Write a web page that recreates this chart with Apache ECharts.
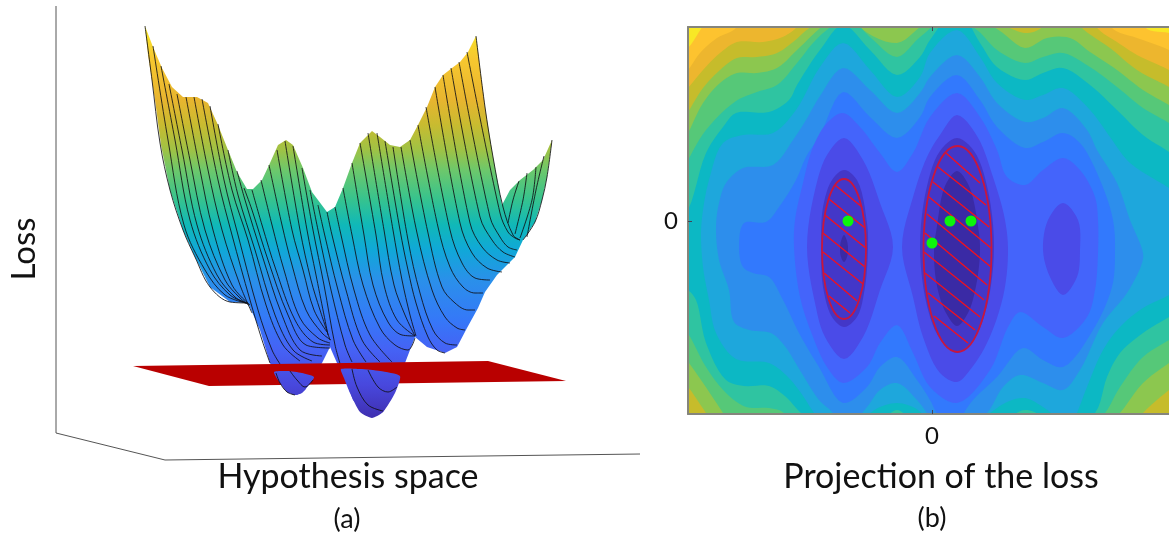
<!DOCTYPE html>
<html><head><meta charset="utf-8">
<style>html,body{margin:0;padding:0;background:#fff}#c{width:1169px;height:534px}</style>
<script src="https://cdn.jsdelivr.net/npm/echarts@6/dist/echarts.min.js"></script>
</head><body><div id="c"></div>
<script>
// ---------- (a) projected loss surface, [hypothesis, loss-projection] readings ----------
const SURFACE_OUTLINE = [[145,26],[153,47],[162,68],[172,87],[183,97],[197,97],[208,103],[218,125],[228,150],[237,172],[247,189],[253,189],[262,180],[270,163],[278,145],[286,140],[293,145],[303,168],[312,192],[327,212],[335,207],[343,188],[352,163],[360,143],[372,131],[380,137],[390,145],[400,147],[410,140],[418,125],[427,107],[435,87],[443,75],[452,68],[460,62],[468,52],[476,36],[485,107],[493,157],[502,205],[510,190],[520,180],[533,170],[543,160],[552,140],[547,177],[542,200],[535,222],[523,240],[515,257],[497,275],[485,292],[478,308],[467,328],[457,347],[445,353],[427,347],[415,337],[405,363],[400,377],[393,393],[383,412],[370,417],[353,400],[342,370],[337,363],[330,347],[322,363],[313,378],[305,390],[297,395],[287,392],[277,377],[270,363],[260,330],[248,303],[230,302],[210,287],[195,257],[183,230],[170,190],[161,145],[155,100],[148,55]];
const SLICES = [
[[145,26],[152,80],[160,143],[170,190],[183,230],[195,257],[210,287],[230,302],[248,303]],
[[153,46],[168,140],[184,225],[205,270],[225,295],[246,303]],
[[161,66],[175,140],[190,220],[210,270],[230,295],[247,303]],
[[169,84],[182,150],[197,225],[217,275],[235,297],[248,304]],
[[177,94],[190,160],[205,230],[225,280],[240,298],[249,305]],
[[186,97],[200,170],[213,230],[232,285],[250,305]],
[[194,97],[208,170],[222,230],[240,285],[252,313]],
[[202,99],[218,180],[232,235],[250,300],[262,340],[270,363]],
[[210,106],[224,180],[238,235],[258,310],[272,350],[280,364]],
[[218,124],[232,190],[248,240],[266,305],[283,345],[300,361]],
[[228,150],[238,195],[255,250],[275,315],[293,350],[312,361]],
[[237,171],[245,200],[262,255],[282,315],[300,350],[322,356]],
[[244,188],[252,210],[268,260],[288,315],[306,345],[330,348]],
[[252,190],[262,225],[276,270],[295,320],[313,342],[330,345]],
[[261,180],[272,225],[284,270],[300,318],[318,338],[330,343]],
[[269,165],[282,225],[292,265],[306,310],[322,333],[331,340]],
[[277,150],[292,230],[303,270],[314,310],[327,332]],
[[285,141],[300,230],[311,280],[320,310],[330,340]],
[[293,146],[307,230],[316,275],[328,335]],
[[302,168],[313,230],[324,285],[335,345],[342,370]],
[[310,190],[318,230],[331,290],[345,345],[352,362]],
[[318,205],[324,232],[338,290],[353,340],[366,362]],
[[327,212],[332,235],[346,290],[362,340],[380,362]],
[[335,207],[341,235],[354,290],[370,335],[392,362]],
[[343,188],[352,235],[363,285],[380,328],[395,345],[408,350],[415,338]],
[[352,163],[364,235],[373,285],[388,322],[402,335],[415,336]],
[[360,143],[376,235],[384,285],[397,320],[415,336]],
[[368,133],[384,230],[394,285],[405,315],[415,336]],
[[377,133],[393,230],[402,280],[410,315],[416,336]],
[[385,141],[400,230],[408,270],[416,303],[428,337],[437,350],[445,353]],
[[393,147],[408,240],[420,293],[433,330],[445,343],[457,345]],
[[401,147],[417,233],[432,290],[445,317],[457,328],[465,330]],
[[410,140],[428,233],[442,287],[455,303],[468,310],[475,310]],
[[418,125],[438,227],[450,267],[463,287],[475,293],[483,293]],
[[426,107],[450,230],[462,263],[475,278],[490,280]],
[[435,87],[460,223],[472,253],[487,268],[502,272]],
[[443,75],[470,223],[482,247],[497,260],[510,263]],
[[451,68],[480,217],[492,240],[503,252],[515,257]],
[[459,62],[490,217],[500,237],[508,247],[517,250]],
[[467,52],[500,213],[508,232],[515,238],[520,240]],
[[476,36],[485,107],[493,157],[503,207],[513,235],[520,240]],
[[552,140],[547,177],[542,200],[535,222],[523,240]],
[[544,156],[536,190],[527,237]],
[[536,167],[532,200],[520,238]],
[[527,173],[523,200],[515,234]],
[[519,181],[513,200],[508,223]]
];
const PLANE = [[133,366],[488,361],[566,381],[209,386]];
const WELL_CAPS = [
[[274,372],[287,371],[302,373],[314,377],[308,386],[302,393],[295,395],[287,392],[280,383]],
[[341,369],[360,369],[380,371],[400,376],[395,393],[383,412],[372,418],[360,412],[350,393],[344,378]]
];
const WELL_SLICES = [
[[276,373],[280,383],[287,392],[295,395]],
[[290,371],[297,380],[305,387],[313,380]],
[[352,369],[357,387],[368,405],[383,411]],
[[368,370],[378,387],[388,392],[397,387]]
];
const BOX_EDGES = [[56,6],[56,433],[165,460],[640,454]];
const HEIGHT_STOPS = [[27,'#f7e826'],[58,'#f7c82f'],[100,'#e8b52f'],[125,'#c8bb30'],[150,'#9fc245'],[170,'#6dc86b'],[200,'#35c38f'],[225,'#10b8b8'],[250,'#10a8d8'],[280,'#2a90ea'],[320,'#3578f8'],[350,'#4562f5'],[385,'#4848dd'],[418,'#3f2fb0']];

// ---------- (b) contour bands: upper boundary then lower boundary of each sub-level set ----------
const LEVEL_COLORS = ['#fdc32f','#edb62e','#c6bc2b','#8cc74f','#56c878','#2fc4a1','#0cb8c4','#1ea7dc','#2d8eec','#3279fd','#4464fb','#4a4be8','#4337c8','#3a2aa5'];
const U1=[[-260,160],[-244,173],[-231,192],[-215,215],[200,215],[215,192],[237,188],[255,180]];
const D1=[[-260,-230],[255,-230]];
const U2=[[-260,135],[-244,151],[-232,168],[-215,183],[-197,192],[-180,215],[165,215],[181,192],[205,183],[237,171],[255,160]];
const U3=[[-260,115],[-244,133],[-229,151],[-212,168],[-195,179],[-169,179],[-152,183],[-137,192],[-120,215],[150,215],[166,192],[185,179],[205,166],[237,151],[255,140]];
const U4=[[-260,85],[-244,109],[-229,133],[-212,151],[-195,163],[-175,164],[-155,168],[-139,179],[-124,192],[-90,215],[20,215],[80,192],[93,188],[108,192],[130,215],[151,192],[178,173],[205,151],[237,134],[255,122]];
const D4=[[-260,-145],[-243,-167],[-226,-192],[-210,-215],[195,-215],[211,-192],[237,-169],[255,-155]];
const U5=[[-260,60],[-244,88],[-229,118],[-212,138],[-195,148],[-175,148],[-155,153],[-135,171],[-113,192],[-85,215],[-70,192],[-35,178],[-12,194],[15,215],[65,192],[93,173],[115,183],[138,183],[158,169],[185,151],[211,131],[237,116],[255,105]];
const D5=[[-260,-120],[-243,-142],[-209,-192],[-195,-215],[165,-215],[188,-192],[211,-162],[237,-142],[255,-130]];
const U6=[[-260,30],[-244,61],[-226,91],[-196,120],[-175,129],[-155,136],[-135,158],[-119,178],[-104,192],[-85,204],[-62,184],[-35,164],[-12,184],[18,204],[45,191],[65,171],[93,158],[111,164],[131,168],[158,154],[185,134],[211,113],[237,98],[255,85]];
const D6=[[-260,-90],[-243,-114],[-226,-146],[-206,-172],[-186,-186],[-163,-187],[-148,-192],[-135,-215],[150,-215],[173,-192],[188,-166],[211,-136],[237,-119],[255,-108]];
const U7=[[-260,-10],[-244,11],[-226,68],[-209,94],[-196,108],[-163,109],[-143,121],[-135,136],[-112,171],[-89,196],[-62,171],[-35,146],[-12,164],[-2,181],[25,211],[48,178],[65,154],[93,141],[111,148],[131,153],[158,136],[185,111],[211,86],[237,69],[255,55]];
const D7=[[-260,-60],[-244,-69],[-236,-79],[-226,-122],[-206,-159],[-188,-165],[-163,-165],[-146,-176],[-131,-192],[-100,-215],[-45,-194],[-35,-189],[-25,-194],[30,-215],[80,-194],[93,-189],[108,-194],[130,-215],[163,-192],[175,-156],[188,-132],[211,-112],[237,-96],[255,-85]];
const U8=[[-231,-12],[-229,11],[-223,41],[-209,78],[-189,86],[-159,88],[-136,111],[-112,154],[-89,178],[-62,151],[-35,124],[-12,144],[-2,168],[25,191],[48,164],[65,138],[93,121],[111,126],[131,133],[158,111],[178,84],[198,58],[237,33],[255,20]];
const D8=[[-229,-46],[-223,-79],[-216,-112],[-196,-138],[-163,-142],[-146,-154],[-131,-172],[-118,-192],[-100,-215],[-65,-194],[-52,-186],[-35,-182],[-19,-186],[-5,-196],[25,-215],[58,-192],[75,-181],[93,-177],[111,-186],[121,-194],[135,-215],[145,-192],[155,-166],[171,-129],[188,-106],[211,-87],[237,-74],[255,-62]];
const U9=[[-216,-6],[-213,18],[-206,38],[-189,53],[-159,56],[-139,81],[-126,101],[-112,125],[-89,153],[-62,131],[-35,108],[-12,128],[-2,144],[25,166],[48,144],[65,118],[93,99],[111,103],[131,113],[155,91],[165,71],[185,38],[198,1],[211,-32]];
const D9=[[-213,-39],[-203,-69],[-198,-101],[-183,-109],[-161,-112],[-148,-124],[-131,-151],[-113,-179],[-99,-192],[-89,-210],[-65,-186],[-52,-169],[-35,-162],[-15,-179],[1,-199],[25,-215],[55,-192],[71,-166],[88,-154],[111,-162],[131,-169],[148,-149],[171,-102],[195,-72],[210,-42]];
const U10=[[-193,-26],[-188,-2],[-166,-1],[-153,14],[-136,41],[-126,64],[-112,86],[-89,129],[-62,104],[-35,83],[-12,104],[-2,124],[25,146],[48,121],[65,94],[93,73],[111,79],[131,88],[148,78],[168,41],[181,1],[183,-32]];
const D10=[[-189,-46],[-179,-52],[-163,-56],[-149,-79],[-133,-112],[-113,-146],[-89,-182],[-65,-166],[-52,-146],[-35,-136],[-15,-159],[-2,-179],[6,-194],[25,-212],[31,-194],[41,-179],[65,-156],[91,-127],[111,-139],[131,-146],[161,-109],[180,-66]];
const U11=[[-138,-26],[-137,1],[-130,34],[-119,74],[-105,98],[-89,108],[-72,94],[-52,68],[-35,49],[-19,68],[-2,104],[25,128],[48,104],[65,71],[75,44],[93,36],[111,51],[131,63],[148,51],[163,24],[166,1],[166,-32]];
const D11=[[-132,-76],[-119,-116],[-105,-146],[-89,-162],[-65,-146],[-52,-122],[-35,-104],[-19,-132],[-2,-166],[25,-182],[58,-149],[76,-106],[88,-91],[111,-106],[131,-117],[155,-96],[163,-69]];
const LOBE_LEFT=[[-88,83],[-69,61],[-52,18],[-39,-26],[-52,-69],[-69,-116],[-88,-138],[-107,-116],[-117,-82],[-125,-26],[-117,31],[-105,66]];
const LOBE_RIGHT=[[25,106],[45,85],[61,44],[73,1],[76,-32],[71,-76],[55,-122],[38,-149],[25,-161],[8,-152],[-9,-116],[-19,-76],[-30,-26],[-19,24],[-5,64],[8,86]];
const LOBE_THIRD=[[131,18],[116,1],[111,-29],[118,-56],[131,-74],[145,-56],[148,-29],[146,1]];
const CORE_LEFT=[[-88,51],[-75,41],[-65,-2],[-64,-26],[-67,-66],[-75,-96],[-88,-106],[-100,-96],[-109,-66],[-111,-26],[-109,14],[-100,41]];
const CORE_RIGHT=[[25,83],[42,70],[55,35],[62,-25],[55,-85],[42,-118],[25,-132],[8,-118],[-5,-85],[-12,-25],[-5,35],[8,70]];
const PIT_LEFT=[[-88,-14],[-85,-20],[-84,-28],[-85,-36],[-88,-41],[-91,-36],[-92,-28],[-91,-20]];
const PIT_RIGHT=[[25,50],[37,35],[46,-5],[48,-30],[44,-65],[36,-92],[25,-105],[14,-92],[5,-65],[2,-30],[5,-5],[13,35]];

const BASE_COLOR='#f8e826';
const ELLIPSES=[[-88,-28,22,70],[25.5,-28,34,103]];
const HATCHES=[
[[-97,36],[-70,14]],[[-103,22],[-67,-7]],[[-107,6],[-65,-28]],[[-109,-12],[-67,-46]],[[-109,-31],[-69,-63]],[[-108,-52],[-75,-80]],[[-103,-75],[-82,-92]],
[[14,68],[48,38]],[[6,54],[54,16]],[[1,39],[57,-6]],[[-3,24],[59,-27]],[[-5,7],[59,-46]],[[-7,-12],[55,-64]],[[-8,-31],[52,-79]],[[-7,-52],[48,-96]],[[-4,-72],[43,-109]],[[2,-95],[36,-122]]
];
const MINIMA=[[-84,0],[18,0],[39,0],[0,-22]];
const TICK_VALUES=[0];

function ring(u,d){return u.concat(d.slice().reverse());}
const RINGS=[
 {c:0,p:ring(U1,D1)},{c:1,p:ring(U2,D1)},{c:2,p:ring(U3,D1)},{c:3,p:ring(U4,D4)},
 {c:4,p:ring(U5,D5)},{c:5,p:ring(U6,D6)},{c:6,p:ring(U7,D7)},{c:7,p:ring(U8,D8)},
 {c:8,p:ring(U9,D9)},{c:9,p:ring(U10,D10)},{c:10,p:ring(U11,D11)},
 {c:11,p:LOBE_LEFT},{c:11,p:LOBE_RIGHT},{c:11,p:LOBE_THIRD},
 {c:12,p:CORE_LEFT},{c:12,p:CORE_RIGHT},
 {c:13,p:PIT_LEFT},{c:13,p:PIT_RIGHT}
];
// closed centripetal curve through the read boundary points, used only to draw a smooth edge
function smoothClosed(pts){
  const n=pts.length,out=[];
  const tj=(t,a,b)=>t+Math.pow(Math.hypot(b[0]-a[0],b[1]-a[1])||1e-3,0.5);
  const mix=(a,b,ta,tb,t)=>[a[0]*(tb-t)/(tb-ta)+b[0]*(t-ta)/(tb-ta),a[1]*(tb-t)/(tb-ta)+b[1]*(t-ta)/(tb-ta)];
  for(let i=0;i<n;i++){
    const p0=pts[(i-1+n)%n],p1=pts[i],p2=pts[(i+1)%n],p3=pts[(i+2)%n];
    const t0=0,t1=tj(t0,p0,p1),t2=tj(t1,p1,p2),t3=tj(t2,p2,p3);
    for(let k=0;k<6;k++){
      const t=t1+(t2-t1)*k/6;
      const a1=mix(p0,p1,t0,t1,t),a2=mix(p1,p2,t1,t2,t),a3=mix(p2,p3,t2,t3,t);
      const b1=mix(a1,a2,t0,t2,t),b2=mix(a2,a3,t1,t3,t);
      out.push(mix(b1,b2,t1,t2,t));
    }
  }
  return out;
}

function heightFill(api){
  const y0=api.coord([0,HEIGHT_STOPS[0][0]])[1], last=HEIGHT_STOPS[HEIGHT_STOPS.length-1][0];
  const y1=api.coord([0,last])[1], span=last-HEIGHT_STOPS[0][0];
  return new echarts.graphic.LinearGradient(0,y0,0,y1,HEIGHT_STOPS.map(s=>({offset:(s[0]-HEIGHT_STOPS[0][0])/span,color:s[1]})),true);
}
function polygons(list,z,fillFn,smooth){
  return {type:'custom',xAxisIndex:0,yAxisIndex:0,z:z,silent:true,animation:false,clip:false,
    data:list.map((_,i)=>[i]),encode:{x:-1,y:-1},
    renderItem:(p,api)=>({type:'polygon',shape:{points:list[p.dataIndex].map(q=>api.coord(q)),smooth:smooth||0},
      style:{fill:fillFn(api),stroke:null}})};
}
function lineSeries(pts,z,color,width,smooth){
  return {type:'line',xAxisIndex:0,yAxisIndex:0,data:pts,z:z,symbol:'none',smooth:smooth,silent:true,animation:false,
    clip:false,lineStyle:{color:color,width:width},emphasis:{disabled:true}};
}
const series=[];
series.push(polygons([SURFACE_OUTLINE],2,heightFill));
SLICES.forEach(s=>series.push(lineSeries(s,3,'rgba(15,15,20,0.85)',1,0.35)));
series.push(polygons([PLANE],4,()=>'#b90000'));
series.push(polygons(WELL_CAPS,5,heightFill,0.2));
WELL_SLICES.forEach(s=>series.push(lineSeries(s,6,'rgba(15,15,20,0.85)',1,0.35)));
series.push(lineSeries(BOX_EDGES,1,'#555',1,false));
// right panel
series.push({type:'custom',xAxisIndex:1,yAxisIndex:1,z:2,silent:true,animation:false,clip:true,
  data:[[0]],encode:{x:-1,y:-1},
  renderItem:(p,api)=>{const a=api.coord([-244,194]),b=api.coord([237,-193]);
    return {type:'rect',shape:{x:a[0],y:a[1],width:b[0]-a[0],height:b[1]-a[1]},style:{fill:BASE_COLOR}};}});
series.push({type:'custom',xAxisIndex:1,yAxisIndex:1,z:3,silent:true,animation:false,clip:true,
  data:RINGS.map((_,i)=>[i]),encode:{x:-1,y:-1},
  renderItem:(p,api)=>{const r=RINGS[p.dataIndex];
    return {type:'polygon',shape:{points:smoothClosed(r.p).map(q=>api.coord(q))},style:{fill:LEVEL_COLORS[r.c]}};}});
HATCHES.forEach(h=>series.push({type:'line',xAxisIndex:1,yAxisIndex:1,data:h,z:5,symbol:'none',silent:true,animation:false,
  lineStyle:{color:'#f5101c',width:1.3}}));
series.push({type:'custom',xAxisIndex:1,yAxisIndex:1,z:6,silent:true,animation:false,
  data:ELLIPSES,encode:{x:0,y:1},
  renderItem:(p,api)=>{const e=ELLIPSES[p.dataIndex],c=api.coord([e[0],e[1]]),q=api.size([e[2],e[3]]);
    return {type:'ellipse',shape:{cx:c[0],cy:c[1],rx:q[0],ry:q[1]},style:{fill:'none',stroke:'#c8163e',lineWidth:1.8}};}});
series.push({type:'scatter',xAxisIndex:1,yAxisIndex:1,data:MINIMA,z:7,symbolSize:11,silent:true,animation:false,
  itemStyle:{color:'#0cf50c',opacity:1}});

const FONT='Lato';
function label(text,x,y,size,rot){return {type:'text',x:x,y:y,rotation:rot||0,z:20,silent:true,
  style:{text:text,fontFamily:FONT,fontSize:size,fill:'#111',textAlign:'center',textVerticalAlign:'middle'}};}
const frame={show:true,onZero:false,lineStyle:{color:'#85857c',width:2}};
const opt={
 animation:false,backgroundColor:'#fff',
 grid:[{left:0,top:0,width:640,height:534,containLabel:false},{left:688,top:27,width:481,height:387}],
 xAxis:[
  {gridIndex:0,type:'value',min:0,max:640,show:false},
  {gridIndex:1,type:'value',min:-244,max:237,position:'bottom',z:10,splitLine:{show:false},axisLine:frame,
   axisTick:{show:true,inside:true,length:4,customValues:TICK_VALUES,lineStyle:{color:'#445',width:1}},
   axisLabel:{customValues:TICK_VALUES,margin:10,fontFamily:FONT,fontSize:24,color:'#111',formatter:v=>String(v)}},
  {gridIndex:1,type:'value',min:-244,max:237,position:'top',z:10,splitLine:{show:false},axisLine:frame,
   axisTick:{show:true,inside:true,length:4,customValues:TICK_VALUES,lineStyle:{color:'#445',width:1}},
   axisLabel:{show:false}}
 ],
 yAxis:[
  {gridIndex:0,type:'value',min:0,max:534,inverse:true,show:false},
  {gridIndex:1,type:'value',min:-193,max:194,position:'left',z:10,splitLine:{show:false},axisLine:frame,
   axisTick:{show:true,inside:true,length:4,customValues:TICK_VALUES,lineStyle:{color:'#445',width:1}},
   axisLabel:{customValues:TICK_VALUES,margin:10,fontFamily:FONT,fontSize:24,color:'#111',formatter:v=>String(v)}}
 ],
 graphic:[
  label('Loss',24,249,33,Math.PI/2),
  label('Hypothesis space',348,477,34),
  label('(a)',347,519,27),
  label('Projection of the loss',941,477,34),
  label('(b)',932,518,27)
 ],
 series:series
};
echarts.init(document.getElementById('c')).setOption(opt);
</script></body></html>
